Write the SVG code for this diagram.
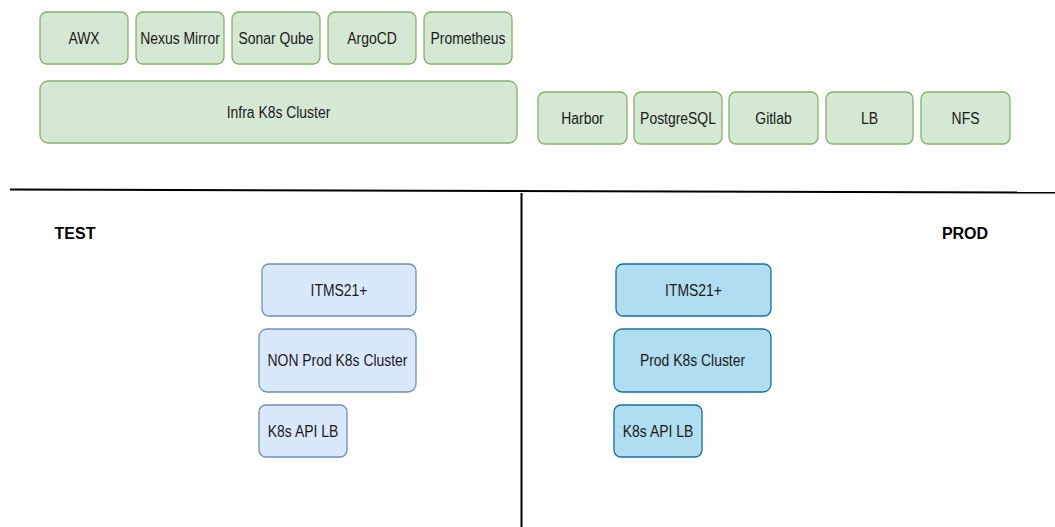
<svg xmlns="http://www.w3.org/2000/svg" width="1055" height="527" viewBox="0 0 1055 527">
<style>
.g{fill:#d5e8d4;stroke:#82b366;stroke-width:1.3}
.t{fill:#dae8fc;stroke:#6c8ebf;stroke-width:1.3}
.p{fill:#b1ddf0;stroke:#10739e;stroke-width:1.3}
text{font-family:"Liberation Sans",Arial,sans-serif;font-size:16px;fill:#1a1a1a;text-anchor:middle;dominant-baseline:central}
.h{font-weight:bold;font-size:16px;fill:#000}
.ln{stroke:#000;stroke-width:2;fill:none}
</style>
<rect width="1055" height="527" fill="#fff"/>
<g id="connectors">
<path class="ln" d="M10 189.5 L1055 192.5"/>
<path class="ln" d="M521.5 193 L521.5 527"/>
</g>
<g id="awx"><rect class="g" x="40" y="12" width="88" height="52" rx="7"/><text transform="translate(84 38) scale(0.87 1)">AWX</text></g>
<g id="nexus"><rect class="g" x="136" y="12" width="88" height="52" rx="7"/><text transform="translate(180 38) scale(0.87 1)">Nexus Mirror</text></g>
<g id="sonar"><rect class="g" x="232" y="12" width="88" height="52" rx="7"/><text transform="translate(276 38) scale(0.87 1)">Sonar Qube</text></g>
<g id="argocd"><rect class="g" x="328" y="12" width="88" height="52" rx="7"/><text transform="translate(372 38) scale(0.87 1)">ArgoCD</text></g>
<g id="prometheus"><rect class="g" x="424" y="12" width="88" height="52" rx="7"/><text transform="translate(468 38) scale(0.87 1)">Prometheus</text></g>
<g id="infra"><rect class="g" x="40" y="81" width="477" height="62" rx="8"/><text transform="translate(278.5 112) scale(0.87 1)">Infra K8s Cluster</text></g>
<g id="harbor"><rect class="g" x="538" y="92" width="89" height="52" rx="7"/><text transform="translate(582.5 118) scale(0.87 1)">Harbor</text></g>
<g id="postgres"><rect class="g" x="634" y="92" width="88" height="52" rx="7"/><text transform="translate(678 118) scale(0.87 1)">PostgreSQL</text></g>
<g id="gitlab"><rect class="g" x="729" y="92" width="89" height="52" rx="7"/><text transform="translate(773.5 118) scale(0.87 1)">Gitlab</text></g>
<g id="lb"><rect class="g" x="826" y="92" width="87" height="52" rx="7"/><text transform="translate(869.5 118) scale(0.87 1)">LB</text></g>
<g id="nfs"><rect class="g" x="921" y="92" width="89" height="52" rx="7"/><text transform="translate(965.5 118) scale(0.87 1)">NFS</text></g>
<g id="test-label"><text class="h" x="75" y="233">TEST</text></g>
<g id="prod-label"><text class="h" x="965" y="233">PROD</text></g>
<g id="test-itms"><rect class="t" x="262" y="264" width="154" height="52" rx="7"/><text transform="translate(339 290) scale(0.87 1)">ITMS21+</text></g>
<g id="test-cluster"><rect class="t" x="259" y="329" width="157" height="63" rx="8"/><text transform="translate(337.5 360.5) scale(0.87 1)">NON Prod K8s Cluster</text></g>
<g id="test-apilb"><rect class="t" x="259" y="405" width="88" height="52" rx="7"/><text transform="translate(303 431) scale(0.87 1)">K8s API LB</text></g>
<g id="prod-itms"><rect class="p" x="616" y="264" width="155" height="52" rx="7"/><text transform="translate(693.5 290) scale(0.87 1)">ITMS21+</text></g>
<g id="prod-cluster"><rect class="p" x="614" y="329" width="157" height="63" rx="8"/><text transform="translate(692.5 360.5) scale(0.87 1)">Prod K8s Cluster</text></g>
<g id="prod-apilb"><rect class="p" x="614" y="405" width="88" height="52" rx="7"/><text transform="translate(658 431) scale(0.87 1)">K8s API LB</text></g>
</svg>
